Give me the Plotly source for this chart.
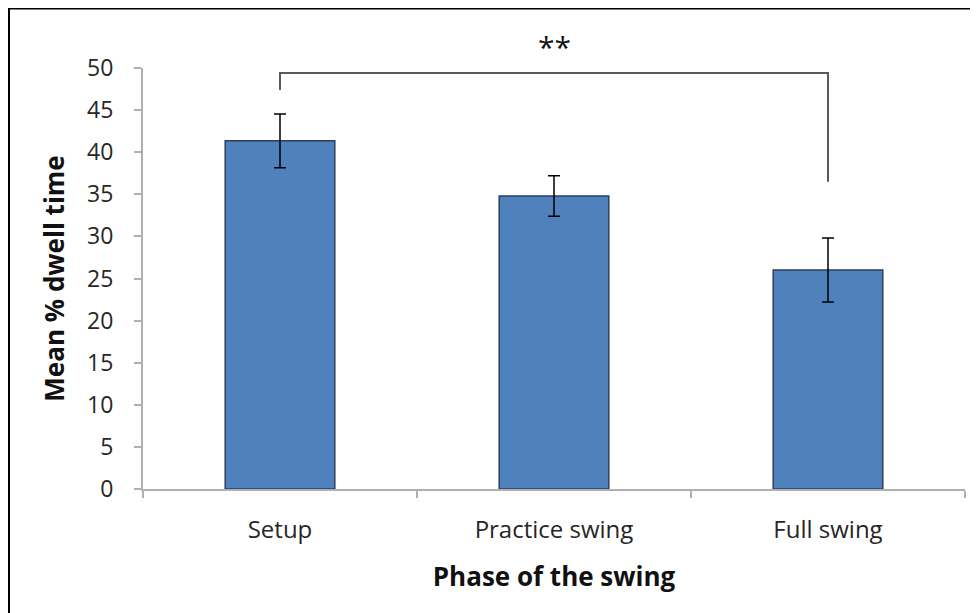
import plotly.graph_objects as go

categories = ["Setup", "Practice swing", "Full swing"]
means = [41.35, 34.8, 26.0]
errors = [3.2, 2.4, 3.8]
y_ticks = [0, 5, 10, 15, 20, 25, 30, 35, 40, 45, 50]
bracket_top = 49.4
bracket_left_bottom = 47.4
bracket_right_bottom = 36.5
sig_label = "**"

FONT = "Open Sans, Lato, sans-serif"
OFF = 8  # page body margin
W, H = 978 - OFF, 613 - OFF
# plot area in screen pixels: x 143..965, y 68..489
ML, MR, MT, MB = 143 - OFF, 978 - 965, 68 - OFF, 613 - 489
pw = W - ML - MR
ph = H - MT - MB

def px_x(p):
    return (p - OFF - ML) / pw

def px_y(p):
    return (H - MB - (p - OFF)) / ph

fig = go.Figure()
fig.add_trace(go.Bar(
    x=categories, y=means, width=0.4,
    marker=dict(color="#4f81bd", line=dict(color="#2b3f5c", width=1.5)),
    error_y=dict(type="data", array=errors, visible=True, color="#000000",
                 thickness=1.5, width=6),
    showlegend=False,
))

# significance bracket
fig.add_shape(type="path", xref="x", yref="y",
              path=f"M 0 {bracket_left_bottom} L 0 {bracket_top} L 2 {bracket_top} L 2 {bracket_right_bottom}",
              line=dict(color="#595959", width=2))
fig.add_annotation(x=1, y=px_y(24), xref="x", yref="paper", text=sig_label,
                   showarrow=False, font=dict(family=FONT, size=30, color="#111111"))

# outer frame
fig.add_shape(type="rect", xref="paper", yref="paper",
              x0=px_x(9), x1=px_x(1000), y0=px_y(650), y1=px_y(8.5),
              line=dict(color="#000000", width=2), fillcolor="rgba(0,0,0,0)", layer="above")

fig.update_layout(
    width=W, height=H,
    margin=dict(l=ML, r=MR, t=MT, b=MB, pad=0),
    paper_bgcolor="white", plot_bgcolor="white",
    font=dict(family=FONT, size=22, color="#222222"),
)
fig.update_xaxes(
    showline=True, linecolor="#b0b0b0", linewidth=2,
    ticks="outside", ticklen=7, tickcolor="#b0b0b0", tickwidth=2,
    tickson="boundaries", ticklabelstandoff=18,
    tickfont=dict(family=FONT, size=24, color="#262626"),
    title=dict(text="<b>Phase of the swing</b>", font=dict(family=FONT, size=26, color="#111111"), standoff=24),
    showgrid=False, range=[-0.5, 2.5],
)
fig.update_yaxes(
    range=[0, 50], tickvals=y_ticks, showline=True, linecolor="#b0b0b0", linewidth=2,
    ticks="outside", ticklen=7, tickcolor="#b0b0b0", tickwidth=2,
    ticklabelstandoff=16,
    tickfont=dict(family=FONT, size=23, color="#262626"),
    title=dict(text="<b>Mean % dwell time</b>", font=dict(family=FONT, size=26, color="#111111"), standoff=15),
    showgrid=False, zeroline=False,
)

fig.write_html("out.html")
